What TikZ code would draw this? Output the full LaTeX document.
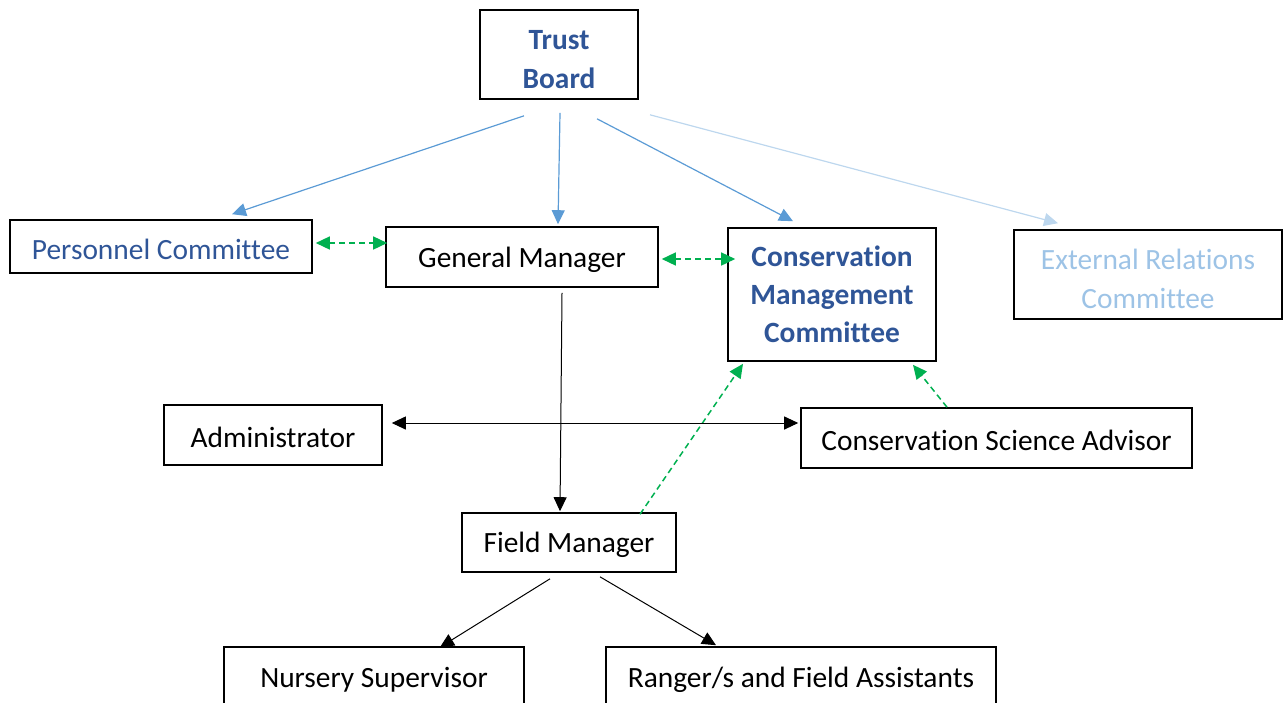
\documentclass[tikz,border=0pt]{standalone}
\usepackage{fontspec}
\setmainfont{Carlito}[Ligatures=NoCommon]
\usetikzlibrary{arrows.meta, positioning, calc}
\definecolor{boarddark}{HTML}{2F5597}
\definecolor{boardmid}{HTML}{5B9BD5}
\definecolor{boardpale}{HTML}{9DC3E6}
\definecolor{paleline}{HTML}{BDD7EE}
\definecolor{peergreen}{HTML}{00B050}
\newcommand{\lowstrut}{\rule{0pt}{15pt}}
\tikzset{%
	unit/.style={draw, rectangle, line width=0.8pt, align=center, inner sep=0pt,%
		font=\fontsize{14.7}{19.5}\selectfont, execute at begin node={\rule{0pt}{13pt}}},
	board/.style={unit, text=boarddark, font=\fontsize{14.7}{19.5}\selectfont\bfseries},
	committee/.style={unit, text=boarddark},
	palecommittee/.style={unit, text=boardpale},
	stacked/.style={execute at begin node={}},
	report/.style={-{Triangle[length=7pt,width=6.5pt]}, line width=0.5pt},
	mandate/.style={report, draw=boardmid, line width=0.6pt},
	faintmandate/.style={report, draw=paleline, line width=0.6pt},
	liaison/.style={-{Triangle[length=7pt,width=6.5pt]}, draw=peergreen,%
		line width=0.75pt, dash pattern=on 3pt off 2pt},
	mutual/.style={{Triangle[length=7pt,width=6.5pt]}-{Triangle[length=7pt,width=6.5pt]}}
}

\begin{document}
\begin{tikzpicture}[x=0.5pt, y=-0.5pt]
	\useasboundingbox (0,0) rectangle (1288,702);
	\clip (0,0) rectangle (1288,702);

	\node[board, stacked, minimum width=79pt, minimum height=44.5pt] (tb) at (559,54.5) {\lowstrut Trust\\Board};
	\node[committee, minimum width=151pt, minimum height=26.5pt] (pc) at (161,246.5) {Personnel Committee};
	\node[unit, minimum width=136pt, minimum height=30pt] (gm) at (522,257) {General Manager};
	\node[board, stacked, minimum width=104pt, minimum height=66.5pt,
		font=\fontsize{14.7}{19}\selectfont\bfseries] (cmc) at (832,294.5) {Conservation\\Management\\Committee};
	\node[palecommittee, stacked, minimum width=134pt, minimum height=44.5pt] (erc) at (1148,274.5) {\lowstrut External Relations\\Committee};
	\node[unit, minimum width=109pt, minimum height=30pt] (adm) at (273,435) {Administrator};
	\node[unit, minimum width=195.5pt, minimum height=30pt] (csa) at (996.5,438) {Conservation Science Advisor};
	\node[unit, minimum width=107pt, minimum height=29.5pt] (fm) at (569,542.5) {Field Manager};
	\node[unit, minimum width=150pt, minimum height=30pt] (ns) at (374,677) {Nursery Supervisor};
	\node[unit, minimum width=195pt, minimum height=30pt] (rfa) at (801,677) {Ranger/s and Field Assistants};

	% board lines
	\draw[mandate] ([shift={(-35,16)}]tb.south) to ([shift={(71,-5)}]pc.north);
	\draw[mandate] ([shift={(1,13)}]tb.south) to ([shift={(36,-2)}]gm.north);
	\draw[mandate] ([shift={(38,19)}]tb.south) to ([shift={(-39,-6)}]cmc.north);
	\draw[faintmandate] ([shift={(91,15)}]tb.south) to ([shift={(-90,-6)}]erc.north);

	% liaison between peers
	\draw[liaison, mutual] ([shift={(3,-3.5)}]pc.east) to ([shift={(2,-14)}]gm.west);
	\draw[liaison, mutual] ([shift={(3,2)}]gm.east) to ([shift={(8,-35.5)}]cmc.west);
	\draw[liaison] ([shift={(71,2)}]fm.north) to ([shift={(-89,2)}]cmc.south);
	\draw[liaison] ([shift={(-49.5,0)}]csa.north) to ([shift={(81,3)}]cmc.south);

	% staff lines
	\draw[report] ([shift={(40,5)}]gm.south) to ([shift={(-9,-1)}]fm.north);
	\draw[report, mutual] ([shift={(9,-12)}]adm.east) to ([shift={(-2,-15)}]csa.west);
	\draw[report] ([shift={(-19,6)}]fm.south) to ([shift={(66,1)}]ns.north);
	\draw[report] ([shift={(31,4)}]fm.south) to ([shift={(-85,-1)}]rfa.north);
\end{tikzpicture}
\end{document}
